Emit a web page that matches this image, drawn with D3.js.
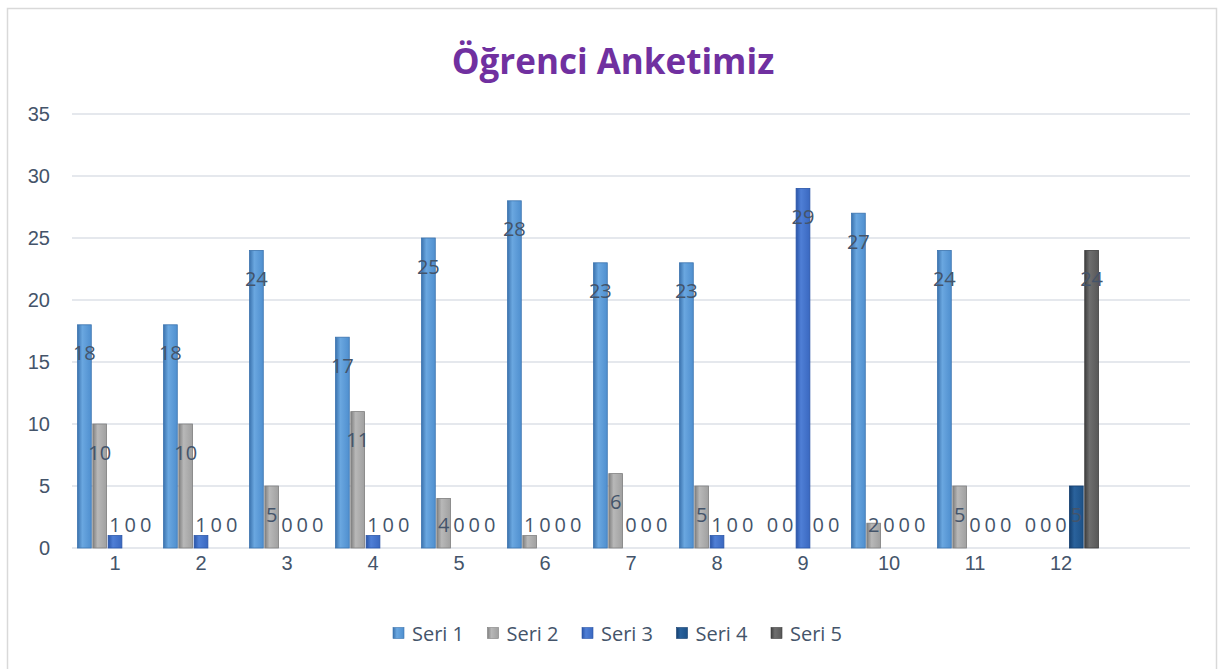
<!DOCTYPE html>
<html>
<head>
<meta charset="utf-8">
<script src="https://cdn.jsdelivr.net/npm/d3@7"></script>
<style>
    body { margin: 0; background: #ffffff; }
    svg { display: block; font-family: "Open Sans", "Noto Sans", sans-serif; }
    .tick-label { fill: #44546A; font-size: 20px; }
    .data-label { fill: #44546A; font-size: 20px; }
    .viz-title { fill: #7030A0; font-size: 35px; font-weight: bold; }
</style>
</head>
<body>
<svg id="svg1" width="1219" height="669"></svg>
<script>
//chart data
const categories = ["1", "2", "3", "4", "5", "6", "7", "8", "9", "10", "11", "12", ""];
const seriesNames = ["Seri 1", "Seri 2", "Seri 3", "Seri 4", "Seri 5"];
const seri1 = [18, 18, 24, 17, 25, 28, 23, 23, 0, 27, 24, 0, null];
const seri2 = [10, 10, 5, 11, 4, 1, 6, 5, 0, 2, 5, 0, null];
const seri3 = [1, 1, 0, 1, 0, 0, 0, 1, 29, 0, 0, 0, null];
const seri4 = [0, 0, 0, 0, 0, 0, 0, 0, 0, 0, 0, 5, null];
const seri5 = [0, 0, 0, 0, 0, 0, 0, 0, 0, 0, 0, 24, null];
const yTicks = [0, 5, 10, 15, 20, 25, 30, 35];

const seriesValues = [seri1, seri2, seri3, seri4, seri5];

// colours: [edge, light, mid]
const colors = [
    ["#3b73ae", "#6aa7e0", "#4f8fcf"],
    ["#7f7f7f", "#b8b8b8", "#a0a0a0"],
    ["#2a55a8", "#4f7fd6", "#3a68c0"],
    ["#143f6f", "#2a629c", "#1d5288"],
    ["#3f3f3f", "#6e6e6e", "#585858"]
];

const width = 1219;
const height = 669;
const plotLeft = 72;
const plotRight = 1190;
const plotTop = 114;
const plotBottom = 548;

const svg = d3.select("#svg1");

// gradients for the bars
const defs = svg.append("defs");
colors.forEach((c, i) => {
    const g = defs.append("linearGradient")
        .attr("id", "grad" + i)
        .attr("x1", "0%").attr("x2", "100%")
        .attr("y1", "0%").attr("y2", "0%");
    g.append("stop").attr("offset", "0%").attr("stop-color", c[0]);
    g.append("stop").attr("offset", "35%").attr("stop-color", c[1]);
    g.append("stop").attr("offset", "100%").attr("stop-color", c[2]);
});

// chart frame
svg.append("rect")
    .attr("x", 7.5)
    .attr("y", 8.5)
    .attr("width", 1209)
    .attr("height", 680)
    .attr("fill", "none")
    .attr("stroke", "#d9d9d9")
    .attr("stroke-width", 1.5);

const xScale = d3.scaleBand()
    .domain(categories.map((d, i) => i))
    .range([plotLeft, plotRight]);

const xInner = d3.scaleBand()
    .domain(seriesNames)
    .range([5.5, xScale.bandwidth() - 5.5])
    .paddingInner(0.1);

const yScale = d3.scaleLinear()
    .domain([0, 35])
    .range([plotBottom, plotTop]);

// gridlines
svg.append("g")
    .selectAll("line")
    .data(yTicks)
    .join("line")
    .attr("x1", plotLeft)
    .attr("x2", plotRight)
    .attr("y1", d => yScale(d))
    .attr("y2", d => yScale(d))
    .attr("stroke", "#dde1e7")
    .attr("stroke-width", 1.5);

// y axis labels
const leftAxis = d3.axisLeft(yScale).tickValues(yTicks).tickSize(0).tickPadding(22);
const yAxisG = svg.append("g")
    .attr("transform", "translate(" + plotLeft + ",0)")
    .call(leftAxis);
yAxisG.select(".domain").remove();
yAxisG.selectAll("text")
    .attr("class", "tick-label")
    .attr("font-family", null)
    .attr("font-size", null)
    .attr("fill", null);

// x axis labels
const bottomAxis = d3.axisBottom(xScale).tickFormat(i => categories[i]).tickSize(0).tickPadding(8);
const xAxisG = svg.append("g")
    .attr("transform", "translate(0," + plotBottom + ")")
    .call(bottomAxis);
xAxisG.select(".domain").remove();
xAxisG.selectAll("text")
    .attr("class", "tick-label")
    .attr("font-family", null)
    .attr("font-size", null)
    .attr("fill", null);

// flatten data
const cells = [];
categories.forEach((cat, i) => {
    seriesNames.forEach((s, j) => {
        const v = seriesValues[j][i];
        if (v !== null) cells.push({ cat: i, series: s, idx: j, value: v });
    });
});

// bars
svg.append("g")
    .selectAll("rect")
    .data(cells.filter(d => d.value > 0))
    .join("rect")
    .attr("x", d => xScale(d.cat) + xInner(d.series))
    .attr("y", d => yScale(d.value))
    .attr("width", xInner.bandwidth())
    .attr("height", d => plotBottom - yScale(d.value))
    .attr("fill", d => "url(#grad" + d.idx + ")")
    .attr("stroke", d => colors[d.idx][0])
    .attr("stroke-width", 0.8);

// data labels
svg.append("g")
    .selectAll("text")
    .data(cells)
    .join("text")
    .attr("class", "data-label")
    .attr("text-anchor", "middle")
    .attr("dominant-baseline", "central")
    .attr("x", d => xScale(d.cat) + xInner(d.series) + xInner.bandwidth() / 2)
    .attr("y", d => Math.min(yScale(d.value) + 28, plotBottom - 24))
    .text(d => d.value);

// title
svg.append("text")
    .attr("class", "viz-title")
    .attr("x", 613)
    .attr("y", 74)
    .attr("text-anchor", "middle")
    .text("Öğrenci Anketimiz");

// legend
const legendStep = 94.5;
const legendStart = 393;
const legend = svg.append("g")
    .selectAll("g")
    .data(seriesNames)
    .join("g")
    .attr("transform", (d, i) => "translate(" + (legendStart + i * legendStep) + ",633)");

legend.append("rect")
    .attr("x", 0)
    .attr("y", -5.5)
    .attr("width", 11)
    .attr("height", 11)
    .attr("fill", (d, i) => "url(#grad" + i + ")")
    .attr("stroke", (d, i) => colors[i][0])
    .attr("stroke-width", 0.6);

legend.append("text")
    .attr("class", "tick-label")
    .attr("x", 19)
    .attr("y", 0)
    .attr("dominant-baseline", "central")
    .text(d => d);
</script>
</body>
</html>
